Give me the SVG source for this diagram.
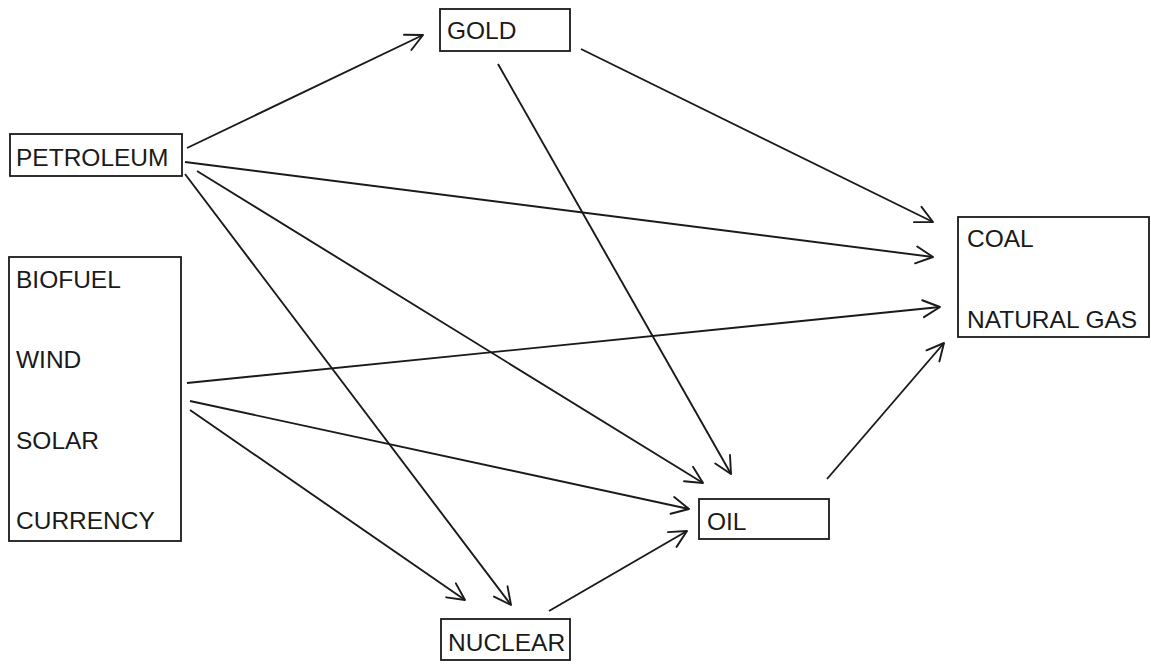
<svg xmlns="http://www.w3.org/2000/svg" width="1151" height="664" viewBox="0 0 1151 664">
<style>
.box{fill:#fff;stroke:#1a1a1a;stroke-width:1.8}
.t{font-family:"Liberation Sans",Arial,sans-serif;font-size:24.5px;fill:#1a1a1a}
.c line{stroke:#1a1a1a;stroke-width:1.9;fill:none;marker-end:url(#ah)}
</style>
<defs>
<marker id="ah" markerUnits="userSpaceOnUse" viewBox="-20 -12 24 24" refX="0" refY="0" markerWidth="24" markerHeight="24" orient="auto" overflow="visible">
<path d="M-17,-8.5 L0,0 L-17,8.5" fill="none" stroke="#1a1a1a" stroke-width="1.9" stroke-linecap="round" stroke-linejoin="round"/>
</marker>
</defs>
<rect width="1151" height="664" fill="#fff"/>
<g class="c" id="connectors">
<line x1="187" y1="148" x2="423" y2="35"/>
<line x1="185" y1="162" x2="933" y2="257"/>
<line x1="197" y1="171" x2="703" y2="483"/>
<line x1="185" y1="174" x2="511" y2="605"/>
<line x1="581" y1="49" x2="933" y2="222"/>
<line x1="498" y1="64" x2="731" y2="474"/>
<line x1="187" y1="383" x2="940" y2="307"/>
<line x1="190" y1="401" x2="689" y2="509"/>
<line x1="190" y1="410" x2="465" y2="600"/>
<line x1="549" y1="611" x2="687" y2="531"/>
<line x1="827" y1="479" x2="944" y2="343"/>
</g>
<g id="petroleum"><rect class="box" x="10" y="134" width="172" height="42"/><text class="t" x="16" y="166">PETROLEUM</text></g>
<g id="gold"><rect class="box" x="440" y="9" width="130" height="42"/><text class="t" x="447" y="39">GOLD</text></g>
<g id="renewables"><rect class="box" x="9" y="257" width="172" height="284"/>
<text class="t" x="16" y="288">BIOFUEL</text>
<text class="t" x="16" y="368">WIND</text>
<text class="t" x="16" y="449">SOLAR</text>
<text class="t" x="16" y="529">CURRENCY</text></g>
<g id="coal"><rect class="box" x="958" y="217" width="191" height="120"/>
<text class="t" x="967" y="247">COAL</text>
<text class="t" x="967" y="328">NATURAL GAS</text></g>
<g id="oil"><rect class="box" x="699" y="499" width="130" height="40"/><text class="t" x="707" y="530">OIL</text></g>
<g id="nuclear"><rect class="box" x="441" y="619" width="129" height="41"/><text class="t" x="448" y="651">NUCLEAR</text></g>
</svg>
